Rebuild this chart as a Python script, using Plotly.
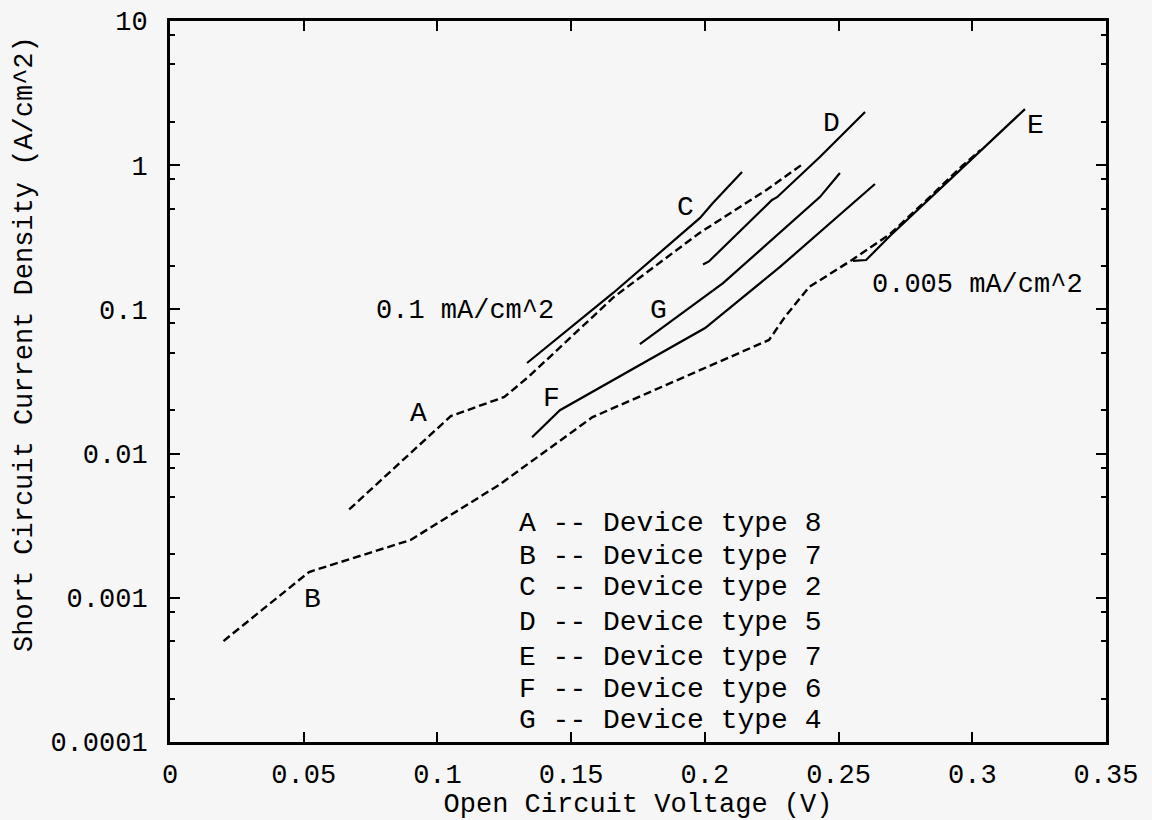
import numpy as np
import plotly.graph_objects as go

# ---- data ----
A_x = [0.067, 0.105, 0.125, 0.134, 0.166, 0.198, 0.223, 0.236]
A_y = [0.0041, 0.0182, 0.0247, 0.034, 0.122, 0.339, 0.673, 1.0]

B_x = [0.020, 0.052, 0.090, 0.123, 0.158, 0.224, 0.230, 0.239, 0.255, 0.269, 0.283, 0.296, 0.303]
B_y = [0.000501, 0.00151, 0.00252, 0.00606, 0.0179, 0.0614, 0.089, 0.143, 0.220, 0.330, 0.575, 0.98, 1.27]

C_x = [0.1335, 0.1657, 0.1982, 0.2030, 0.2139]
C_y = [0.0425, 0.130, 0.431, 0.547, 0.897]

D_x = [0.1993, 0.2015, 0.2251, 0.2270, 0.2430, 0.2599]
D_y = [0.205, 0.215, 0.574, 0.600, 1.14, 2.34]

E_x = [0.2554, 0.2603, 0.2692, 0.2831, 0.2981, 0.3197]
E_y = [0.217, 0.220, 0.323, 0.565, 1.035, 2.45]

F_x = [0.1354, 0.1458, 0.2001, 0.2281, 0.2636]
F_y = [0.0130, 0.0200, 0.0743, 0.197, 0.741]

G_x = [0.1757, 0.2068, 0.2430, 0.2505]
G_y = [0.0575, 0.152, 0.601, 0.883]

series_names = ["A", "B", "C", "D", "E", "F", "G"]
series_dash = ["dash", "dash", "solid", "solid", "solid", "solid", "solid"]

label_x = [0.0931, 0.0531, 0.1926, 0.2475, 0.3235, 0.1428, 0.1825]
label_y = [0.0191, 0.000966, 0.505, 1.96, 1.90, 0.0243, 0.0975]

note_text = ["0.1 mA/cm^2", "0.005 mA/cm^2"]
note_x = [0.1103, 0.3018]
note_y = [0.0975, 0.148]

legend_letters = ["A", "B", "C", "D", "E", "F", "G"]
legend_types = [8, 7, 2, 5, 7, 6, 4]
legend_x = 0.1298
legend_y = [0.00330, 0.00192, 0.00117, 0.000669, 0.000383, 0.000233, 0.000142]

x_ticks = [0, 0.05, 0.1, 0.15, 0.2, 0.25, 0.3, 0.35]
x_ticktext = ["0", "0.05", "0.1", "0.15", "0.2", "0.25", "0.3", "0.35"]
y_ticks = [0.0001, 0.001, 0.01, 0.1, 1, 10]
y_ticktext = ["0.0001", "0.001", "0.01", "0.1", "1", "10"]
y_minor = [m * 10.0 ** e for e in range(-4, 1) for m in (2, 5, 8)]

x_title = "Open Circuit Voltage (V)"
y_title = "Short Circuit Current Density (A/cm^2)"

FONT = "Liberation Mono, Courier New, monospace"
BG = "#f6f6f6"

xs = [A_x, B_x, C_x, D_x, E_x, F_x, G_x]
ys = [A_y, B_y, C_y, D_y, E_y, F_y, G_y]

fig = go.Figure()
for name, x, y, d in zip(series_names, xs, ys, series_dash):
    fig.add_trace(go.Scatter(
        x=x, y=y, mode="lines", name=name,
        line=dict(color="black", width=2.4 if d == "dash" else 2.2,
                  dash="8px,4px" if d == "dash" else "solid"),
        showlegend=False,
    ))

annotations = []
for t, x, y in zip(series_names, label_x, label_y):
    annotations.append(dict(x=x, y=np.log10(y), text=t, showarrow=False,
                            font=dict(family=FONT, size=28, color="black")))
for t, x, y in zip(note_text, note_x, note_y):
    annotations.append(dict(x=x, y=np.log10(y), text=t, showarrow=False,
                            font=dict(family=FONT, size=27, color="black")))
for l, ty, y in zip(legend_letters, legend_types, legend_y):
    annotations.append(dict(x=legend_x, y=np.log10(y), text=f"{l} -- Device type {ty}",
                            showarrow=False, xanchor="left",
                            font=dict(family=FONT, size=28, color="black")))
# y-axis title (placed slightly above the plot centre, as in the reference)
annotations.append(dict(xref="paper", yref="paper", x=-0.155, y=0.552,
                        text=y_title, textangle=-90, showarrow=False,
                        xanchor="center", yanchor="middle",
                        font=dict(family=FONT, size=27, color="black")))

fig.update_layout(
    width=1152, height=820,
    margin=dict(l=170, r=46, t=21, b=78),
    paper_bgcolor=BG, plot_bgcolor=BG,
    font=dict(family=FONT, size=27, color="black"),
    annotations=annotations,
)
fig.update_xaxes(
    range=[0, 0.35], tickmode="array", tickvals=x_ticks, ticktext=x_ticktext,
    ticks="inside", ticklen=10, tickwidth=2, tickcolor="black",
    ticklabelstandoff=6, automargin=False,
    showline=True, linecolor="black", linewidth=3, mirror="ticks",
    showgrid=False, zeroline=False,
    title=dict(text=x_title, standoff=6, font=dict(size=27)),
    tickfont=dict(size=27),
)
fig.update_yaxes(
    type="log", range=[-4, 1], tickmode="array", tickvals=y_ticks, ticktext=y_ticktext,
    ticks="inside", ticklen=10, tickwidth=2, tickcolor="black",
    ticklabelstandoff=14, automargin=False,
    minor=dict(tickmode="array", tickvals=y_minor, ticks="inside", ticklen=5,
               tickwidth=2, tickcolor="black", showgrid=False),
    showline=True, linecolor="black", linewidth=3, mirror="ticks",
    showgrid=False, zeroline=False,
    tickfont=dict(size=27),
)

fig.write_html("out.html")
